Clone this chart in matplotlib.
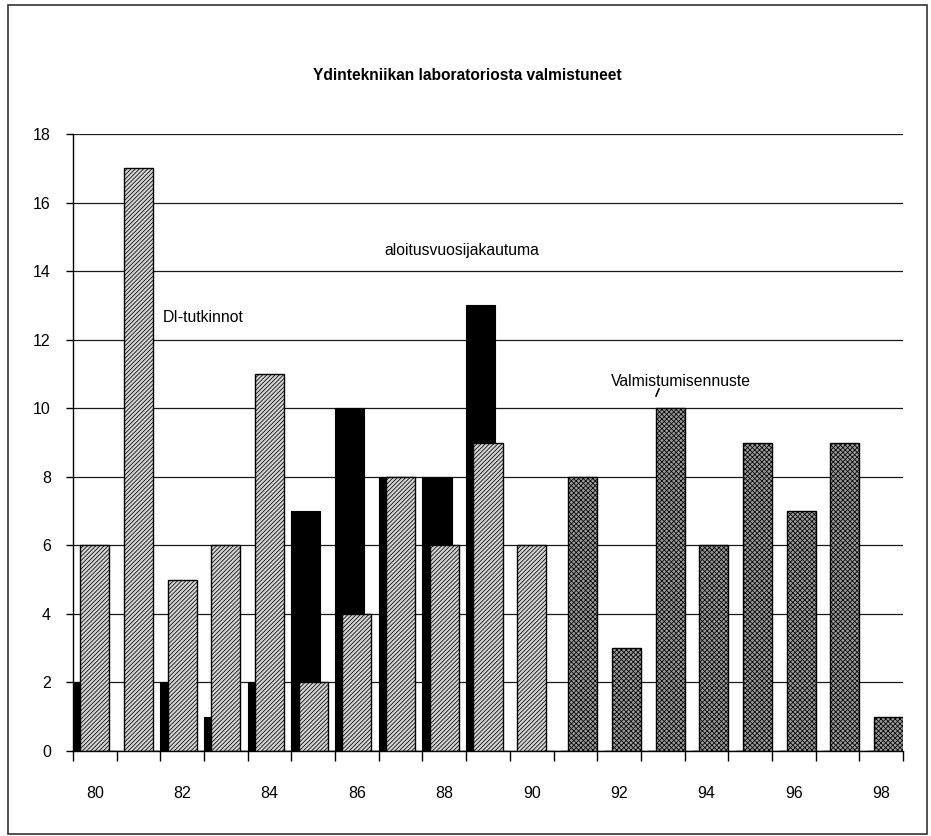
import matplotlib
matplotlib.use("Agg")
import matplotlib.pyplot as plt
from matplotlib.patches import Rectangle
from matplotlib.lines import Line2D
import numpy as np

# ---- data -------------------------------------------------------------
years = list(range(80, 99))
tick_years = [80, 82, 84, 86, 88, 90, 92, 94, 96, 98]
# aloitusvuosijakautuma (start-year distribution)
starts = [2, 0, 2, 1, 2, 7, 10, 8, 8, 13, 0, 0, 0, 0, 0, 0, 0, 0, 0]
# DI-tutkinnot (completed degrees)
degrees = [6, 17, 5, 6, 11, 2, 4, 8, 6, 9, 6, 0, 0, 0, 0, 0, 0, 0, 0]
# Valmistumisennuste (graduation forecast)
forecast = [0, 0, 0, 0, 0, 0, 0, 0, 0, 0, 0, 8, 3, 10, 6, 9, 7, 9, 1]
y_ticks = [0, 2, 4, 6, 8, 10, 12, 14, 16, 18]

title = "Ydintekniikan laboratoriosta valmistuneet"

# ---- style ------------------------------------------------------------
plt.rcParams["font.family"] = ["Liberation Sans", "DejaVu Sans"]
plt.rcParams["hatch.linewidth"] = 0.55

fig = plt.figure(figsize=(9.31, 8.36), dpi=100)
ax = fig.add_axes([73 / 931, 1 - 751 / 836, 830 / 931, (751 - 134) / 836])

x = np.arange(len(years))
w = 0.665
shift = 0.167

ax.bar(x - shift, starts, width=w, color="black", edgecolor="black",
       linewidth=0.8, zorder=2)
ax.bar(x, degrees, width=w, facecolor="#d4d4d4", edgecolor="black",
       hatch="////////", linewidth=1.0, zorder=3)
ax.bar(x + shift, forecast, width=w, facecolor="#9a9a9a", edgecolor="black",
       hatch="xxxxxxx", linewidth=1.0, zorder=4)

ax.set_xlim(-0.5, len(years) - 0.5)
ax.set_ylim(0, 18)

# category boundary tick marks, year labels centred under categories
ax.set_xticks(np.arange(len(years) + 1) - 0.5, minor=True)
ax.set_xticks([years.index(t) for t in tick_years])
ax.set_xticklabels([str(t) for t in tick_years], fontsize=11.5)
ax.tick_params(axis="x", which="major", length=0, pad=25)
ax.tick_params(axis="x", which="minor", length=7, width=1.0, direction="out",
               color="black")

ax.set_yticks(y_ticks)
ax.set_yticklabels([str(t) for t in y_ticks], fontsize=11.5)
ax.tick_params(axis="y", length=5, width=1.0, direction="out", pad=11)

ax.grid(axis="y", color="#1a1a1a", linewidth=0.9)
ax.set_axisbelow(True)
for side in ("top", "right"):
    ax.spines[side].set_visible(False)
ax.spines["left"].set_linewidth(1.0)
ax.spines["bottom"].set_linewidth(1.0)

# chart title and series captions
fig.text(467 / 931, 1 - 75 / 836, title, ha="center", va="center",
         fontsize=11.2, fontweight="bold")
fig.text(462 / 931, 1 - 250 / 836, "aloitusvuosijakautuma", ha="center",
         va="center", fontsize=11.3)
fig.text(163 / 931, 1 - 318 / 836, "DI-tutkinnot", ha="left", va="center",
         fontsize=11.3)
fig.text(611 / 931, 1 - 382 / 836, "Valmistumisennuste", ha="left",
         va="center", fontsize=11.3)
fig.add_artist(Line2D([659 / 931, 656 / 931], [1 - 389 / 836, 1 - 396 / 836],
                      color="black", linewidth=1.2))

# outer frame
fig.add_artist(Rectangle((8 / 931, 1 - 834 / 836), 919 / 931, 829 / 836,
                         transform=fig.transFigure, fill=False,
                         edgecolor="#333333", linewidth=1.2))

fig.savefig("out.png", dpi=100)
